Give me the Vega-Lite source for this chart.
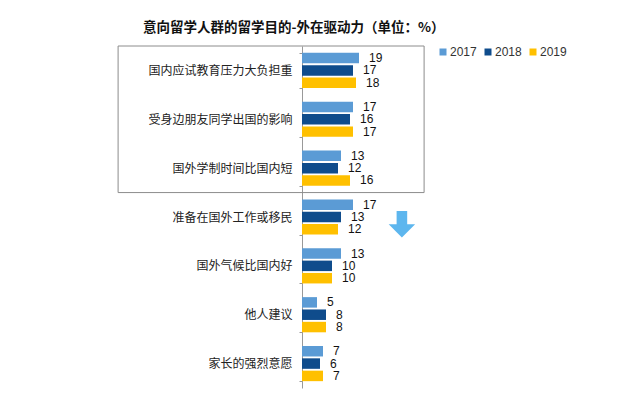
{
  "$schema": "https://vega.github.io/schema/vega-lite/v6.json",
  "autosize": "none",
  "padding": {"left": 302, "top": 46, "right": 199, "bottom": 13},
  "width": 126,
  "height": 342,
  "background": "white",
  "title": {
    "text": "意向留学人群的留学目的-外在驱动力（单位：%）",
    "font": "Noto Sans CJK SC",
    "fontSize": 13.5,
    "fontWeight": "bold",
    "color": "#111",
    "anchor": "start",
    "frame": "group",
    "dx": -159,
    "offset": 6
  },
  "config": {
    "view": {"stroke": null},
    "font": "Liberation Sans"
  },
  "datasets": {
    "bars": [
      {"reason": "国内应试教育压力大负担重", "year": "2017", "value": 19},
      {"reason": "国内应试教育压力大负担重", "year": "2018", "value": 17},
      {"reason": "国内应试教育压力大负担重", "year": "2019", "value": 18},
      {"reason": "受身边朋友同学出国的影响", "year": "2017", "value": 17},
      {"reason": "受身边朋友同学出国的影响", "year": "2018", "value": 16},
      {"reason": "受身边朋友同学出国的影响", "year": "2019", "value": 17},
      {"reason": "国外学制时间比国内短", "year": "2017", "value": 13},
      {"reason": "国外学制时间比国内短", "year": "2018", "value": 12},
      {"reason": "国外学制时间比国内短", "year": "2019", "value": 16},
      {"reason": "准备在国外工作或移民", "year": "2017", "value": 17},
      {"reason": "准备在国外工作或移民", "year": "2018", "value": 13},
      {"reason": "准备在国外工作或移民", "year": "2019", "value": 12},
      {"reason": "国外气候比国内好", "year": "2017", "value": 13},
      {"reason": "国外气候比国内好", "year": "2018", "value": 10},
      {"reason": "国外气候比国内好", "year": "2019", "value": 10},
      {"reason": "他人建议", "year": "2017", "value": 5},
      {"reason": "他人建议", "year": "2018", "value": 8},
      {"reason": "他人建议", "year": "2019", "value": 8},
      {"reason": "家长的强烈意愿", "year": "2017", "value": 7},
      {"reason": "家长的强烈意愿", "year": "2018", "value": 6},
      {"reason": "家长的强烈意愿", "year": "2019", "value": 7}
    ],
    "notes": [
      {"kind": "box", "x": -61.3, "x2": 40.7, "y": 0, "y2": 3},
      {"kind": "arrow", "x": 33.3, "y": 3.65}
    ]
  },
  "layer": [
    {
      "data": {"name": "bars"},
      "encoding": {
        "y": {
          "field": "reason",
          "type": "nominal",
          "sort": null,
          "title": null,
          "scale": {"paddingInner": 0.28, "paddingOuter": 0.14},
          "axis": {
            "domainColor": "#999",
            "tickColor": "#999",
            "tickSize": 3,
            "tickBand": "extent",
            "labelPadding": 7,
            "labelFont": "Noto Sans CJK SC",
            "labelFontSize": 12,
            "labelColor": "#222",
            "labelLimit": 300
          }
        },
        "yOffset": {
          "field": "year",
          "type": "nominal",
          "scale": {"paddingInner": 0.15}
        },
        "x": {
          "field": "value",
          "type": "quantitative",
          "scale": {"domain": [0, 42], "nice": false},
          "axis": null
        }
      },
      "layer": [
        {
          "mark": {"type": "bar"},
          "encoding": {
            "color": {
              "field": "year",
              "type": "nominal",
              "title": null,
              "scale": {"range": ["#5B9BD5", "#0F4C8C", "#FFC000"]},
              "legend": {
                "orient": "none",
                "legendX": 135,
                "legendY": 0,
                "direction": "horizontal",
                "symbolType": "square",
                "symbolSize": 49,
                "symbolStrokeWidth": 0,
                "labelFont": "Liberation Sans",
                "labelFontSize": 12,
                "labelColor": "#333",
                "labelOffset": 1,
                "columnPadding": 5
              }
            }
          }
        },
        {
          "mark": {
            "type": "text",
            "align": "left",
            "baseline": "middle",
            "dx": 10,
            "fontSize": 12,
            "font": "Liberation Sans",
            "color": "#111"
          },
          "encoding": {"text": {"field": "value", "type": "quantitative"}}
        }
      ]
    },
    {
      "data": {"name": "notes"},
      "encoding": {
        "x": {"field": "x", "type": "quantitative"}
      },
      "layer": [
        {
          "transform": [{"filter": "datum.kind == 'box'"}],
          "mark": {"type": "rect", "fill": null, "stroke": "#8c8c8c", "strokeWidth": 1},
          "encoding": {
            "x2": {"field": "x2"},
            "y": {
              "field": "y",
              "type": "quantitative",
              "scale": {"domain": [0, 7], "reverse": true, "nice": false},
              "axis": null
            },
            "y2": {"field": "y2"}
          }
        },
        {
          "transform": [{"filter": "datum.kind == 'arrow'"}],
          "mark": {
            "type": "point",
            "filled": true,
            "size": 700,
            "color": "#5DB6EE",
            "opacity": 1,
            "shape": "M-0.4,-1L0.4,-1L0.4,0L1,0L0,1L-1,0L-0.4,0Z"
          },
          "encoding": {
            "y": {"field": "y", "type": "quantitative"}
          }
        }
      ]
    }
  ],
  "resolve": {"scale": {"y": "independent"}, "axis": {"y": "independent"}}
}
